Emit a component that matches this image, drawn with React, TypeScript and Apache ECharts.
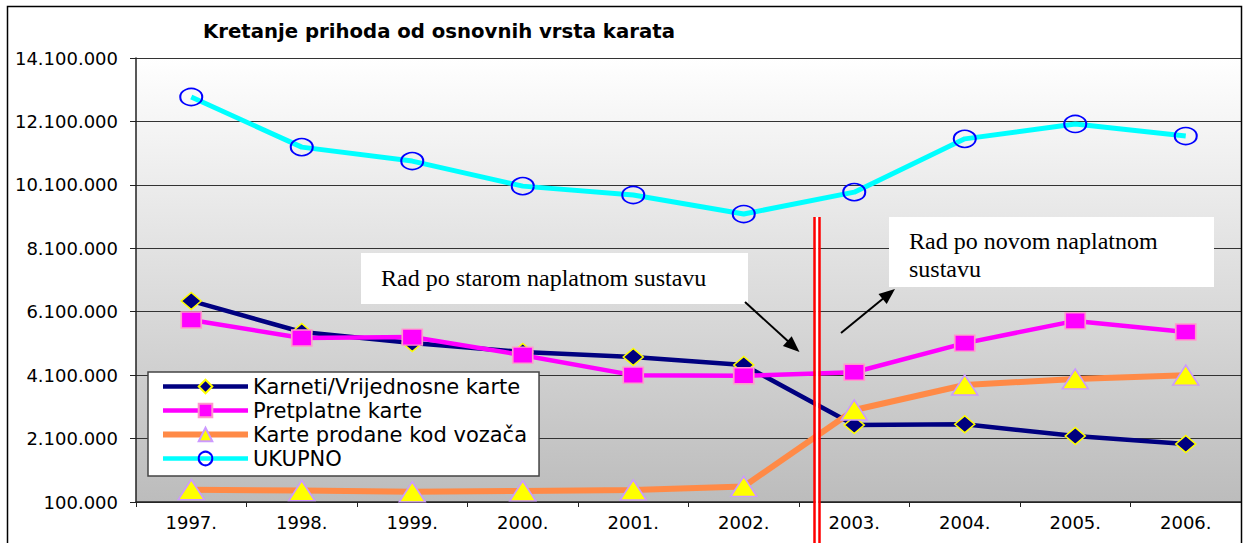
import React, { useEffect, useRef } from "react";
import * as echarts from "echarts";

const years = ["1997.", "1998.", "1999.", "2000.", "2001.", "2002.", "2003.", "2004.", "2005.", "2006."];
const karneti = [6440000, 5460000, 5110000, 4830000, 4670000, 4420000, 2530000, 2550000, 2180000, 1930000];
const pretplatne = [5840000, 5270000, 5300000, 4730000, 4100000, 4080000, 4190000, 5110000, 5810000, 5460000];
const vozaca = [490000, 460000, 420000, 450000, 480000, 590000, 3000000, 3790000, 3980000, 4100000];
const ukupno = [12870000, 11290000, 10850000, 10060000, 9780000, 9180000, 9870000, 11550000, 12020000, 11640000];
const seriesNames = ["Karneti/Vrijednosne karte", "Pretplatne karte", "Karte prodane kod vozača", "UKUPNO"];
const lineColors = ["#000080", "#ff00ff", "#ff8a47", "#00ffff"];
const titleText = "Kretanje prihoda od osnovnih vrsta karata";
const noteOld = "Rad po starom naplatnom sustavu";
const noteNew1 = "Rad po novom naplatnom";
const noteNew2 = "sustavu";
const yMin = 100000;
const yMax = 14100000;
const yStep = 2000000;

const fmt = (v: number) => String(Math.round(v)).replace(/\B(?=(\d{3})+(?!\d))/g, ".");

export default function App() {
  const ref = useRef<HTMLDivElement>(null);
  useEffect(() => {
    if (!ref.current) return;
    const chart = echarts.init(ref.current, null, { renderer: "svg" });
    const sans = "DejaVu Sans";
    const serif = "Liberation Serif";
    chart.setOption({
      animation: false,
      backgroundColor: "#ffffff",
      title: {
        text: titleText,
        left: 203,
        top: 21,
        padding: 0,
        textStyle: { fontFamily: sans, fontWeight: "bold", fontSize: 19.7, color: "#000" },
      },
      grid: {
        left: 136,
        right: 2,
        top: 58,
        bottom: 41,
        show: true,
        borderWidth: 0,
        backgroundColor: new echarts.graphic.LinearGradient(0, 0, 0, 1, [
          { offset: 0, color: "#ffffff" },
          { offset: 1, color: "#bcbcbc" },
        ]),
      },
      legend: {
        orient: "vertical",
        left: 148,
        top: 372,
        padding: [4, 12, 7, 12],
        itemWidth: 85,
        itemHeight: 17,
        itemGap: 3,
        backgroundColor: "#ffffff",
        borderColor: "#444",
        borderWidth: 1.5,
        textStyle: { fontFamily: sans, fontSize: 21, color: "#000" },
        data: seriesNames.map((n, i) => ({
          name: n,
          lineStyle: { width: i === 2 ? 6 : 4.5, color: lineColors[i] },
        })),
      },
      xAxis: {
        type: "category",
        data: years,
        boundaryGap: true,
        axisLine: { lineStyle: { color: "#222", width: 1.5 } },
        axisTick: { show: true, length: 5, lineStyle: { color: "#222" } },
        axisLabel: { fontFamily: sans, fontSize: 18, color: "#000", margin: 11 },
        splitLine: { show: false },
      },
      yAxis: {
        type: "value",
        min: yMin,
        max: yMax,
        interval: yStep,
        axisLine: { show: true, lineStyle: { color: "#222", width: 1.5 } },
        axisTick: { show: true, length: 6, lineStyle: { color: "#222" } },
        axisLabel: { fontFamily: sans, fontSize: 18, color: "#000", margin: 18, formatter: (v: number) => fmt(v) },
        splitLine: { show: true, lineStyle: { color: "#333", width: 1 } },
      },
      series: [
        {
          name: seriesNames[0],
          type: "line",
          data: karneti,
          symbol: "diamond",
          symbolSize: [20, 17],
          lineStyle: { color: lineColors[0], width: 4.5 },
          itemStyle: { color: "#000080", borderColor: "#ffff00", borderWidth: 1.5 },
        },
        {
          name: seriesNames[1],
          type: "line",
          data: pretplatne,
          symbol: "rect",
          symbolSize: [20, 16],
          lineStyle: { color: lineColors[1], width: 4.5 },
          itemStyle: { color: "#ff00ff", borderColor: "#ff99cc", borderWidth: 1.5 },
        },
        {
          name: seriesNames[2],
          type: "line",
          data: vozaca,
          symbol: "triangle",
          symbolSize: [26, 20],
          lineStyle: { color: lineColors[2], width: 6 },
          itemStyle: { color: "#ffff00", borderColor: "#cc99ff", borderWidth: 1.5 },
        },
        {
          name: seriesNames[3],
          type: "line",
          data: ukupno,
          symbol: "circle",
          symbolSize: [22, 17],
          lineStyle: { color: lineColors[3], width: 5 },
          itemStyle: { color: "rgba(255,255,255,0)", borderColor: "#0000ff", borderWidth: 1.8 },
        },
      ],
      graphic: [
        {
          type: "rect",
          z: 100,
          silent: true,
          shape: { x: 7.5, y: 6.5, width: 1234, height: 600 },
          style: { fill: "none", stroke: "#000", lineWidth: 1.5 },
        },
        {
          type: "rect",
          z: 100,
          shape: { x: 815.5, y: 217, width: 3, height: 330 },
          style: { fill: "#ffffff" },
        },
        {
          type: "line",
          z: 101,
          shape: { x1: 814.5, y1: 217, x2: 814.5, y2: 545 },
          style: { stroke: "#ff0000", lineWidth: 2.5 },
        },
        {
          type: "line",
          z: 101,
          shape: { x1: 819.5, y1: 217, x2: 819.5, y2: 545 },
          style: { stroke: "#ff0000", lineWidth: 2.5 },
        },
        {
          type: "rect",
          z: 100,
          shape: { x: 361, y: 253, width: 387, height: 51 },
          style: { fill: "#ffffff" },
        },
        {
          type: "text",
          z: 101,
          x: 381,
          y: 278,
          style: { text: noteOld, font: `24px '${serif}'`, fill: "#000", verticalAlign: "middle" },
        },
        {
          type: "rect",
          z: 100,
          shape: { x: 889, y: 217, width: 325, height: 70 },
          style: { fill: "#ffffff" },
        },
        {
          type: "text",
          z: 101,
          x: 909,
          y: 241,
          style: { text: noteNew1, font: `24px '${serif}'`, fill: "#000", verticalAlign: "middle" },
        },
        {
          type: "text",
          z: 101,
          x: 909,
          y: 269,
          style: { text: noteNew2, font: `24px '${serif}'`, fill: "#000", verticalAlign: "middle" },
        },
        {
          type: "line",
          z: 101,
          shape: { x1: 745, y1: 302, x2: 790, y2: 343 },
          style: { stroke: "#000", lineWidth: 2 },
        },
        {
          type: "polygon",
          z: 101,
          shape: { points: [[799.5, 352], [782.9, 345.9], [791.7, 336.3]] },
          style: { fill: "#000" },
        },
        {
          type: "line",
          z: 101,
          shape: { x1: 841, y1: 333, x2: 885, y2: 297 },
          style: { stroke: "#000", lineWidth: 2 },
        },
        {
          type: "polygon",
          z: 101,
          shape: { points: [[895, 289], [886.7, 304.1], [878.5, 294.1]] },
          style: { fill: "#000" },
        },
      ],
    });
    return () => chart.dispose();
  }, []);
  return (
    <div
      ref={ref}
      style={{ position: "absolute", left: 0, top: 0, width: 1243, height: 543, background: "#fff" }}
    />
  );
}
